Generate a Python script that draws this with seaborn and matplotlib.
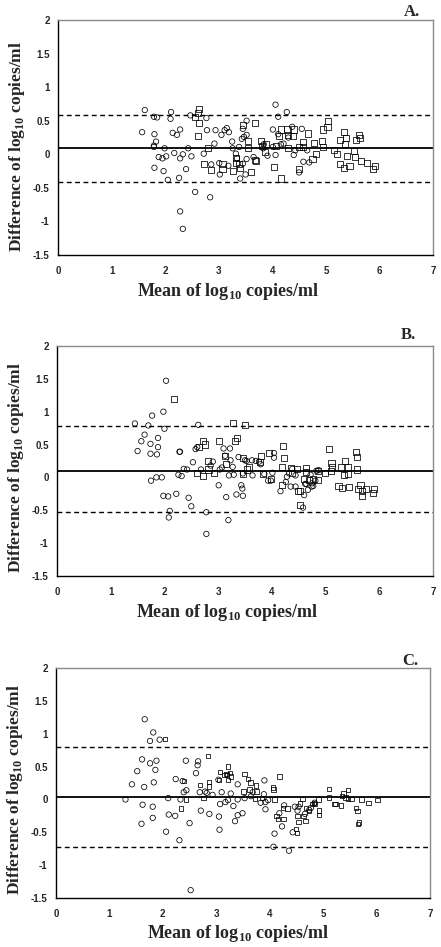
import matplotlib
matplotlib.use("Agg")
import matplotlib.pyplot as plt
import seaborn as sns

# ---- Panel A data (circles and squares) ----
a_circ_x = [1.62, 1.57, 1.79, 1.85, 1.80, 1.83, 1.79, 1.79, 1.88, 1.95, 2.02, 1.99, 1.80, 1.97, 2.05,
            2.11, 2.10, 2.14, 2.22, 2.28, 2.17, 2.28, 2.33, 2.26, 2.39, 2.43, 2.49, 2.47, 2.28, 2.33,
            2.56, 2.77, 2.78, 2.72, 2.84, 2.86, 2.92, 2.94, 3.01, 3.02, 3.05, 3.11, 3.15, 3.19, 3.25,
            3.18, 3.26, 3.34, 3.38, 3.43, 3.45, 3.40, 3.45, 3.50, 3.52, 3.52, 3.52, 3.47, 3.32, 3.65,
            3.91, 3.84, 3.83, 4.01, 4.01, 4.06, 4.11, 4.06, 4.11, 4.16, 4.21, 4.27, 4.30, 4.37, 4.40,
            4.43, 4.55, 4.50, 4.58, 4.69, 4.65]
a_circ_y = [0.66, 0.33, 0.56, 0.55, 0.30, 0.19, 0.13, 0.11, -0.04, -0.06, -0.03, 0.09, -0.20, -0.25, -0.38,
            0.63, 0.53, 0.32, 0.29, 0.37, 0.02, -0.06, 0.00, -0.35, -0.22, 0.09, -0.03, 0.58, -0.85, -1.11,
            -0.56, 0.54, 0.36, 0.01, -0.64, -0.15, 0.16, 0.36, -0.13, -0.30, 0.29, 0.36, 0.39, 0.33, 0.19,
            -0.17, 0.09, -0.06, 0.11, 0.23, 0.38, -0.36, -0.14, -0.30, -0.07, 0.29, 0.50, 0.26, 0.01, -0.04,
            -0.02, 0.15, 0.09, 0.37, 0.11, 0.74, 0.56, -0.01, 0.30, 0.15, 0.16, 0.63, 0.25, 0.41, -0.01,
            0.06, 0.38, -0.27, -0.11, -0.12, 0.06]
a_sq_x = [2.64, 2.61, 2.56, 2.64, 2.62, 2.80, 2.72, 2.86, 3.07, 3.07, 3.27, 3.33, 3.32, 3.38, 3.39,
          3.46, 3.55, 3.55, 3.60, 3.67, 3.68, 3.69, 3.79, 3.81, 3.89, 3.86, 4.03, 4.07, 4.12, 4.16,
          4.17, 4.27, 4.30, 4.30, 4.41, 4.39, 4.50, 4.49, 4.57, 4.58, 4.66, 4.75, 4.77, 4.82, 4.93,
          4.95, 4.95, 5.04, 5.03, 5.15, 5.20, 5.26, 5.27, 5.33, 5.34, 5.36, 5.38, 5.39, 5.44, 5.52,
          5.54, 5.56, 5.61, 5.64, 5.66, 5.76, 5.88, 5.91]
a_sq_y = [0.68, 0.61, 0.55, 0.47, 0.27, 0.10, -0.15, -0.24, -0.15, -0.22, -0.25, -0.05, -0.13, -0.14, -0.20,
          0.43, 0.20, 0.10, -0.26, 0.47, -0.08, -0.10, 0.20, 0.13, 0.15, 0.04, -0.19, 0.12, 0.28, 0.37,
          -0.36, 0.37, 0.29, 0.09, 0.37, 0.27, 0.11, -0.22, 0.19, 0.11, 0.31, -0.07, 0.17, 0.01, 0.20,
          0.11, 0.37, 0.50, 0.41, 0.06, 0.01, -0.15, 0.22, 0.33, -0.20, 0.16, 0.25, -0.03, -0.17, 0.05,
          -0.04, 0.22, 0.29, 0.25, -0.10, -0.13, -0.22, -0.17]
a_lines = [0.09, 0.58, -0.41]  # mean, upper limit, lower limit

# ---- Panel B data ----
b_circ_x = [1.45, 1.50, 1.57, 1.63, 1.70, 1.77, 1.74, 1.74, 1.88, 1.88, 1.86, 1.75, 1.85, 1.95, 1.98,
            2.00, 2.03, 1.98, 2.07, 2.10, 2.08, 2.22, 2.26, 2.28, 2.29, 2.32, 2.36, 2.42, 2.45, 2.50,
            2.53, 2.58, 2.61, 2.63, 2.68, 2.78, 2.78, 2.86, 2.90, 3.01, 3.03, 3.07, 3.10, 3.13, 3.15,
            3.19, 3.20, 3.22, 3.23, 3.27, 3.29, 3.34, 3.38, 3.43, 3.45, 3.46, 3.46, 3.50, 3.53, 3.63,
            3.64, 3.70, 3.76, 3.79, 3.86, 3.93, 3.98, 4.01, 4.04, 4.04, 4.16, 4.26, 4.28, 4.32, 4.35,
            4.38, 4.44, 4.44, 4.58, 4.60, 4.62, 4.64, 4.67, 4.72, 4.74, 4.75, 4.77, 4.81, 4.83, 4.87]
b_circ_y = [0.82, 0.40, 0.55, 0.65, 0.79, 0.94, 0.51, 0.36, 0.60, 0.46, 0.35, -0.05, 0.00, 0.00, 1.00,
            0.74, 1.47, -0.28, -0.29, -0.51, -0.61, -0.25, 0.04, 0.39, 0.39, 0.02, 0.13, 0.12, -0.31, -0.44,
            0.23, 0.43, 0.46, 0.80, 0.12, -0.53, -0.86, 0.18, 0.24, -0.12, 0.12, 0.15, 0.44, 0.33, -0.30,
            -0.65, 0.03, 0.44, 0.26, 0.16, 0.04, -0.26, 0.31, -0.12, -0.17, -0.28, 0.06, 0.26, 0.25, 0.26,
            0.03, 0.25, 0.24, 0.20, 0.05, -0.05, -0.05, 0.07, 0.37, 0.30, -0.21, -0.07, 0.01, 0.06, -0.14,
            0.13, -0.14, 0.03, -0.46, -0.27, -0.10, -0.10, -0.19, 0.04, -0.14, -0.09, -0.13, -0.05, 0.10, 0.11]
b_sq_x = [2.17, 2.60, 2.64, 2.71, 2.75, 2.72, 2.81, 2.82, 2.93, 3.01, 3.13, 3.15, 3.27, 3.31, 3.35,
          3.50, 3.46, 3.47, 3.53, 3.58, 3.79, 3.78, 3.94, 3.84, 3.98, 4.18, 4.18, 4.21, 4.22, 4.36,
          4.37, 4.46, 4.49, 4.52, 4.53, 4.63, 4.64, 4.60, 4.69, 4.76, 4.85, 4.86, 4.99, 5.07, 5.11,
          5.12, 5.10, 5.24, 5.31, 5.29, 5.34, 5.37, 5.42, 5.42, 5.44, 5.56, 5.59, 5.58, 5.60, 5.65,
          5.67, 5.68, 5.76, 5.88, 5.91]
b_sq_y = [1.19, 0.06, 0.46, 0.55, 0.50, 0.02, 0.25, 0.12, 0.06, 0.55, 0.33, 0.20, 0.83, 0.55, 0.60,
          0.80, 0.05, 0.30, 0.12, 0.15, 0.33, 0.24, 0.37, 0.05, -0.03, 0.16, -0.11, 0.48, 0.29, 0.14,
          0.06, 0.13, -0.21, -0.21, -0.42, 0.14, 0.08, -0.02, -0.04, -0.02, -0.04, 0.10, 0.07, 0.43, 0.22,
          0.16, 0.10, -0.13, -0.16, 0.15, 0.04, 0.25, 0.05, 0.15, -0.15, 0.39, 0.31, 0.12, -0.18, -0.11,
          -0.20, -0.29, -0.18, -0.24, -0.18]
b_lines = [0.10, 0.78, -0.52]

# ---- Panel C data ----
c_circ_x = [1.30, 1.42, 1.52, 1.61, 1.62, 1.60, 1.65, 1.66, 1.76, 1.76, 1.81, 1.81, 1.82, 1.83, 1.86,
            1.88, 1.94, 2.06, 2.11, 2.10, 2.24, 2.23, 2.31, 2.33, 2.37, 2.39, 2.43, 2.44, 2.50, 2.52,
            2.62, 2.65, 2.66, 2.69, 2.71, 2.79, 2.82, 2.87, 2.93, 3.04, 3.05, 3.06, 3.07, 3.10, 3.17,
            3.22, 3.27, 3.32, 3.35, 3.40, 3.40, 3.40, 3.49, 3.53, 3.65, 3.68, 3.83, 3.90, 3.89, 3.92,
            3.92, 3.97, 4.07, 4.09, 4.18, 4.23, 4.27, 4.36, 4.43, 4.47, 4.52, 4.54, 4.66, 4.74, 4.77,
            4.84]
c_circ_y = [0.00, 0.23, 0.43, 0.61, -0.08, -0.37, 0.19, 1.22, 0.89, 0.55, -0.11, -0.28, 1.02, 0.26, 0.45,
            0.59, 0.91, -0.49, -0.23, 0.02, 0.31, -0.25, -0.62, 0.00, 0.28, 0.11, 0.59, 0.14, -0.36, -1.38,
            0.40, 0.52, 0.58, 0.11, -0.17, 0.12, 0.10, -0.22, 0.07, 0.30, -0.26, -0.46, -0.07, 0.11, -0.04,
            -0.01, 0.09, -0.10, -0.33, 0.23, -0.24, 0.00, -0.21, 0.02, 0.05, 0.11, -0.05, 0.29, 0.08, -0.15,
            -0.04, -0.01, -0.72, -0.52, -0.21, -0.41, -0.09, -0.78, -0.50, -0.11, -0.17, -0.11, -0.22, -0.16, -0.13,
            -0.05]
c_sq_x = [2.04, 2.34, 2.40, 2.43, 2.69, 2.76, 2.85, 2.86, 2.86, 3.05, 3.07, 3.15, 3.19, 3.22, 3.26,
          3.22, 3.28, 3.20, 3.53, 3.51, 3.59, 3.62, 3.64, 3.72, 3.74, 3.75, 3.85, 4.06, 4.07, 4.09,
          4.18, 4.13, 4.15, 4.26, 4.33, 4.25, 4.49, 4.51, 4.52, 4.54, 4.57, 4.61, 4.63, 4.67, 4.68,
          4.73, 4.79, 4.83, 4.85, 4.92, 4.92, 4.91, 5.11, 5.11, 5.21, 5.23, 5.33, 5.35, 5.38, 5.42,
          5.46, 5.47, 5.53, 5.61, 5.64, 5.65, 5.67, 5.72, 5.85, 6.02]
c_sq_y = [0.92, -0.14, 0.28, 0.00, 0.22, 0.02, 0.66, 0.27, 0.20, 0.30, 0.42, 0.37, 0.39, 0.50, 0.40,
          0.30, 0.35, 0.37, 0.39, 0.12, 0.31, 0.15, 0.26, 0.01, 0.21, 0.12, 0.02, 0.18, 0.15, 0.00,
          0.35, -0.25, -0.30, -0.30, -0.14, -0.13, -0.45, -0.51, -0.25, -0.34, -0.06, 0.01, -0.25, -0.33, -0.13,
          -0.18, -0.07, -0.05, -0.07, -0.24, -0.17, 0.00, 0.16, 0.03, -0.07, -0.07, -0.09, 0.05, 0.09, 0.03,
          0.14, 0.01, 0.01, -0.13, -0.18, -0.37, -0.35, 0.00, -0.05, -0.01]
c_lines = [0.035, 0.80, -0.73]

x_ticks = [0, 1, 2, 3, 4, 5, 6, 7]
y_ticks = [-1.5, -1, -0.5, 0, 0.5, 1, 1.5, 2]
y_tick_labels = ["-1.5", "-1", "-0.5", "0", "0.5", "1", "1.5", "2"]
x_label = r"Mean of log$_{\mathregular{10}}$ copies/ml"
y_label = r"Difference of log$_{\mathregular{10}}$ copies/ml"

sns.set_style("white")
plt.rcParams["font.family"] = ["Liberation Sans", "DejaVu Sans"]

fig = plt.figure(figsize=(4.41, 9.47), dpi=100)

panels = [
    # rect, circles, squares, lines, letter, letter pos, square size, ylabel y, xlabel pos
    ([0.1315, 0.7307, 0.8505, 0.2481], a_circ_x, a_circ_y, a_sq_x, a_sq_y, a_lines, "A.", (0.934, 0.987), 19, 0.46, (0.453, -0.157)),
    ([0.1293, 0.3918, 0.8526, 0.2429], b_circ_x, b_circ_y, b_sq_x, b_sq_y, b_lines, "B.", (0.927, 0.646), 19, 0.47, (0.452, -0.157)),
    ([0.1270, 0.0517, 0.8481, 0.2429], c_circ_x, c_circ_y, c_sq_x, c_sq_y, c_lines, "C.", (0.930, 0.302), 10, 0.474, (0.487, -0.152)),
]

for rect, cx, cy, sx, sy, lines, letter, lpos, sq_size, ylab_y, xlab_pos in panels:
    ax = fig.add_axes(rect)
    sns.scatterplot(x=cx, y=cy, ax=ax, marker="o", s=15, facecolor="none",
                    edgecolor="black", linewidth=0.55, zorder=3)
    sns.scatterplot(x=sx, y=sy, ax=ax, marker="s", s=sq_size, facecolor="none",
                    edgecolor="black", linewidth=0.55, zorder=3)
    ax.axhline(lines[0], color="black", lw=1.3, zorder=2)
    ax.axhline(lines[1], color="black", lw=1.0, ls=(0, (3.5, 2.5)), zorder=2)
    ax.axhline(lines[2], color="black", lw=1.0, ls=(0, (3.5, 2.5)), zorder=2)

    ax.set_xlim(0, 7)
    ax.set_ylim(-1.5, 2)
    ax.set_xticks(x_ticks)
    ax.set_xticklabels([str(t) for t in x_ticks], fontsize=7, fontweight="bold")
    ax.set_yticks(y_ticks)
    ax.set_yticklabels(y_tick_labels, fontsize=7, fontweight="bold")
    ax.tick_params(axis="both", direction="out", length=3, width=0.8, color="black")
    ax.tick_params(axis="x", pad=5)
    ax.tick_params(axis="y", pad=3)

    for side in ["left", "bottom"]:
        ax.spines[side].set_color("black")
        ax.spines[side].set_linewidth(1.0)
    for side in ["top", "right"]:
        ax.spines[side].set_color("#8a8a8a")
        ax.spines[side].set_linewidth(1.0)

    ax.set_xlabel(x_label, fontsize=13, fontweight="bold", family="Liberation Serif", va="center")
    ax.set_ylabel(y_label, fontsize=12.5, fontweight="bold", family="Liberation Serif", va="center")
    ax.xaxis.set_label_coords(*xlab_pos)
    ax.yaxis.set_label_coords(-0.109, ylab_y)

    fig.text(lpos[0], lpos[1], letter, fontsize=12, fontweight="bold",
             family="Liberation Serif", ha="center", va="center")

plt.savefig("out.png", dpi=100)
